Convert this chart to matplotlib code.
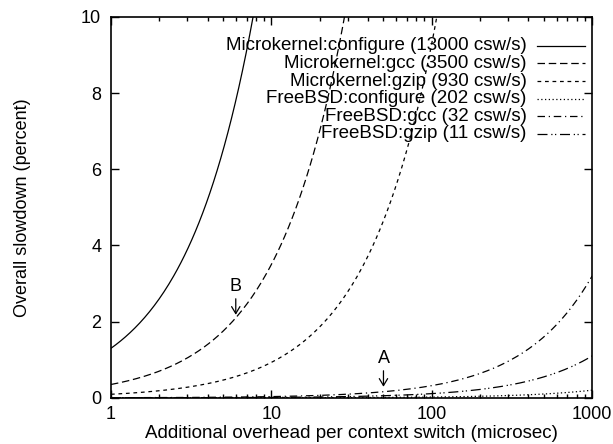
import numpy as np
import matplotlib
matplotlib.use("Agg")
import matplotlib.pyplot as plt

plt.rcParams['font.family'] = ['Liberation Sans', 'DejaVu Sans']

# Legend labels and the slowdown per microsecond of overhead (percent/us)
labels = ["Microkernel:configure (13000 csw/s)",
          "Microkernel:gcc (3500 csw/s)",
          "Microkernel:gzip (930 csw/s)",
          "FreeBSD:configure (202 csw/s)",
          "FreeBSD:gcc (32 csw/s)",
          "FreeBSD:gzip (11 csw/s)"]
slope_pct_per_us = [1.30, 0.35, 0.093, 0.0002, 0.0032, 0.0011]
overhead_us = np.logspace(0, 3, 400)

# annotation points (x, y tip)
ann_labels = ['B', 'A']
ann_x = [6.0, 50.0]
ann_tip_y = [2.18, 0.29]

styles = ['-', (0, (6, 3)), (0, (3, 3)), (0, (1, 2)), (0, (6, 3, 1, 3)), (0, (8, 3, 1, 2, 1, 3))]

fig = plt.figure(figsize=(6.13, 4.44), dpi=100)
ax = fig.add_axes([0.181, 0.104, 0.785, 0.858])

for s, ls in zip(slope_pct_per_us, styles):
    ax.plot(overhead_us, s * overhead_us, color='black', lw=0.9, linestyle=ls)

ax.set_xscale('log')
ax.set_xlim(1, 1000)
ax.set_ylim(0, 10)
ax.set_yticks([0, 2, 4, 6, 8, 10])
ax.set_xticks([1, 10, 100, 1000])
ax.set_xticklabels(['1', '10', '100', '1000'])
ax.tick_params(which='both', direction='in', top=True, right=True, labelsize=13)
ax.tick_params(axis='x', pad=6)
ax.tick_params(axis='y', pad=7)
ax.tick_params(which='major', length=6, width=1)
ax.tick_params(which='minor', length=3, width=1)
for sp in ax.spines.values():
    sp.set_linewidth(1.2)

ax.set_xlabel('Additional overhead per context switch (microsec)', fontsize=13.5, labelpad=1)
ax.set_ylabel('Overall slowdown (percent)', fontsize=13, labelpad=36)

# manual right-aligned legend
y0 = 1 - (46 - 17) / 381
dy = 17.6 / 381
for i, (lab, ls) in enumerate(zip(labels, styles)):
    yy = y0 - i * dy
    ax.text(0.864, yy, lab, transform=ax.transAxes, ha='right', va='center', fontsize=13.5)
    ax.plot([0.886, 0.985], [yy, yy], transform=ax.transAxes, color='black', lw=0.9, linestyle=ls)

# annotations: letter above, arrow pointing down to the curve
for lab, x, ty in zip(ann_labels, ann_x, ann_tip_y):
    ax.text(x, ty + 0.74, lab, ha='center', va='center', fontsize=13)
    ax.annotate('', xy=(x, ty), xytext=(x, ty + 0.42),
                arrowprops=dict(arrowstyle='->,head_length=0.5,head_width=0.3', lw=0.9,
                                color='black', shrinkA=0, shrinkB=0))

fig.savefig('out.png', dpi=100)
